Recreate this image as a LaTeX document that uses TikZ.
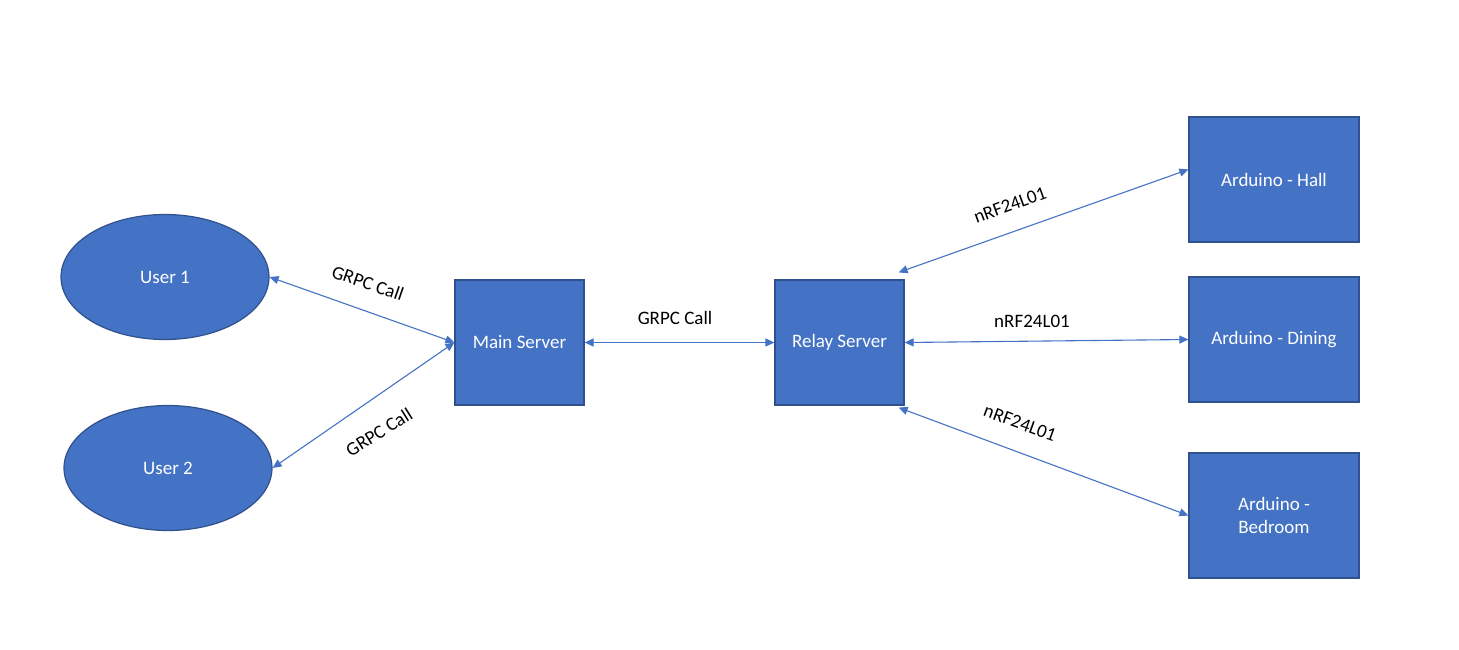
\documentclass[tikz,border=0pt]{standalone}
\usepackage{fontspec}
\setmainfont{Carlito}
\usetikzlibrary{shapes.geometric,arrows.meta,calc}
\definecolor{ofblue}{HTML}{4472C4}
\definecolor{ofedge}{HTML}{2F528F}
\begin{document}
\begin{tikzpicture}[x=1pt,y=-1pt,
  box/.style={draw=ofedge,line width=1.2pt,fill=ofblue,text=white,minimum width=129pt,minimum height=125pt,inner sep=0pt,font=\fontsize{19}{23}\selectfont,align=center},
  abox/.style={box,minimum width=170pt},
  user/.style={ellipse,draw=ofedge,line width=1.2pt,fill=ofblue,text=white,minimum width=208pt,minimum height=125pt,inner sep=0pt,font=\fontsize{19}{23}\selectfont},
  link/.style={draw=ofblue,line width=1.1pt,{Triangle[length=9pt,width=8pt]}-{Triangle[length=9pt,width=8pt]}},
  lbl/.style={font=\fontsize{19}{23}\selectfont,text=black,inner sep=1pt}]
\useasboundingbox (0,0) rectangle (1459,650);
\node[user] (u1) at (165,277) {User 1};
\node[user] (u2) at (168,468) {User 2};
\node[box] (main) at (519.5,342.5) {Main Server};
\node[box] (relay) at (839.5,342.5) {Relay Server};
\node[abox] (hall) at (1274,179.5) {Arduino - Hall};
\node[abox] (dining) at (1274,339.5) {Arduino - Dining};
\node[abox] (bed) at (1274,515.5) {Arduino -\\Bedroom};
\coordinate (rtop) at ($(relay.north east)+(-6,-7)$);
\coordinate (rbot) at ($(relay.south east)+(-6,2)$);
\draw[link] (u1.east) -- (main.west);
\draw[link] (u2.east) -- (main.west);
\draw[link] (main.east) -- (relay.west);
\draw[link] (rtop) -- ($(hall.west)+(0,-10)$);
\draw[link] (relay.east) -- (dining.west);
\draw[link] (rbot) -- ($(bed.west)+(0,0)$);
\node[lbl,rotate=-19] (l1) at (368,283) {GRPC Call};
\node[lbl,rotate=32] (l2) at (379,432) {GRPC Call};
\node[lbl] (l3) at (675,318) {GRPC Call};
\node[lbl,rotate=20] (l4) at (1010,205) {nRF24L01};
\node[lbl] (l5) at (1032,321) {nRF24L01};
\node[lbl,rotate=-20] (l6) at (1020,423) {nRF24L01};
\end{tikzpicture}
\end{document}
